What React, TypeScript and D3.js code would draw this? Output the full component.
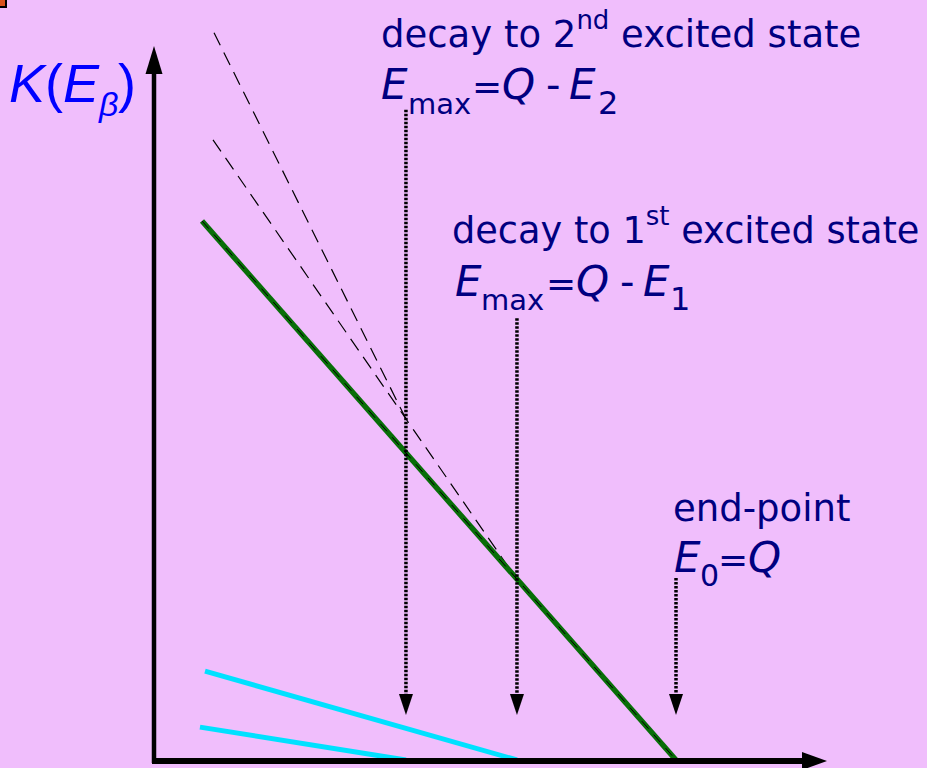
import React, { useEffect } from "react";
import * as d3 from "d3";

// ---- data (energy in arbitrary units, Kurie value K in arbitrary units) ----
const energyDomain = [0, 3];
const kurieDomain = [0, 10];
// end-points of the three branches: E_max2 = Q - E2, E_max1 = Q - E1, E0 = Q
const branchEndpoints = [1.448, 2.086, 3.0];
const markerTopK = [9.29, 6.31, 2.6];
const markerTipK = 0.643;
const groundState: [number, number][] = [[0.276, 7.7], [3.0, 0]];
const firstExcited: [number, number][] = [[0.293, 1.27], [2.086, 0]];
const secondExcited: [number, number][] = [[0.264, 0.47], [1.448, 0]];
const sumTwoBranches: [number, number][] = [[0.339, 8.86], [2.086, 2.58]];
const sumThreeBranches: [number, number][] = [[0.345, 10.39], [1.448, 4.87]];

const BG = "#F0BEFC";
const NAVY = "#000080";
const BLUE = "#0000FF";
const SANS = "'DejaVu Sans', Verdana, sans-serif";

export default function App() {
  useEffect(() => {
    document.body.style.margin = "0";
  }, []);

  const W = 927;
  const H = 768;
  const x = d3.scaleLinear().domain(energyDomain).range([154, 676]);
  const y = d3.scaleLinear().domain(kurieDomain).range([760, 60]);
  const line = d3
    .line<[number, number]>()
    .x((d) => x(d[0]))
    .y((d) => y(d[1]));

  const x0 = x(0);
  const y0 = y(0);

  return (
    <svg
      width={W}
      height={H}
      style={{ position: "absolute", left: 0, top: 0, display: "block" }}
    >
      <rect x={0} y={0} width={W} height={H} fill={BG} />
      <rect x={-3} y={-3} width={9} height={10} fill="#D9531E" stroke="#000" strokeWidth={2} />

      {/* extrapolated dashed sums */}
      <path d={line(sumThreeBranches) || ""} fill="none" stroke="#000" strokeWidth={1.2} strokeDasharray="14 8" />
      <path d={line(sumTwoBranches) || ""} fill="none" stroke="#000" strokeWidth={1.2} strokeDasharray="14 8" />

      {/* excited-state branches */}
      <path d={line(firstExcited) || ""} fill="none" stroke="#00E1FF" strokeWidth={5} />
      <path d={line(secondExcited) || ""} fill="none" stroke="#00E1FF" strokeWidth={5} />

      {/* ground state */}
      <path d={line(groundState) || ""} fill="none" stroke="#086E08" strokeWidth={5.5} />
      <path d={line(groundState) || ""} fill="none" stroke="#000" strokeWidth={1} strokeDasharray="10 8" />

      {/* dotted markers */}
      {branchEndpoints.map((e, i) => {
        const xp = x(e);
        const tip = y(markerTipK);
        return (
          <g key={i}>
            <line x1={xp} x2={xp} y1={y(markerTopK[i])} y2={tip - 19} stroke="#000" strokeWidth={3.5} strokeDasharray="2.5 1.5" />
            <path d={`M${xp - 7},${tip - 21} L${xp + 7},${tip - 21} L${xp},${tip} Z`} fill="#000" />
          </g>
        );
      })}

      {/* axes */}
      <line x1={x0} x2={x0} y1={72} y2={y0 + 3} stroke="#000" strokeWidth={4.5} />
      <path d={`M${x0},46 L${x0 - 8.5},74 L${x0 + 8.5},74 Z`} fill="#000" />
      <line x1={x0 - 2} x2={803} y1={y0 + 1} y2={y0 + 1} stroke="#000" strokeWidth={6} />
      <path d={`M827,${y0 + 1} L802,${y0 - 8} L802,${y0 + 10} Z`} fill="#000" />

      {/* K(E_beta) */}
      <text fontFamily="'Liberation Sans', Arial, sans-serif" fontSize={54} fill={BLUE}>
        <tspan x={9} y={102} fontStyle="italic">K</tspan>
        <tspan x={45} y={102}>(</tspan>
        <tspan x={63} y={102} fontStyle="italic">E</tspan>
        <tspan x={99} y={116} fontSize={34} fontStyle="italic">β</tspan>
        <tspan x={118} y={102}>)</tspan>
      </text>

      {/* 2nd excited state label */}
      <g>
        <text x={381} y={47} fontFamily={SANS} fontSize={37} fill={NAVY}>
          decay to 2<tspan fontSize={26} dy={-18}>nd</tspan>
          <tspan dy={18}> excited state</tspan>
        </text>
        <text fontFamily={SANS} fill={NAVY}>
          <tspan x={381} y={99} fontSize={42} fontStyle="italic">E</tspan>
          <tspan x={408} y={114} fontSize={29}>max</tspan>
          <tspan x={472} y={99} fontSize={36}>=</tspan>
          <tspan x={502} y={99} fontSize={42} fontStyle="italic">Q</tspan>
          <tspan x={546} y={99} fontSize={40}>-</tspan>
          <tspan x={569} y={99} fontSize={42} fontStyle="italic">E</tspan>
          <tspan x={598} y={114} fontSize={32}>2</tspan>
        </text>
      </g>

      {/* 1st excited state label */}
      <g>
        <text x={452} y={243} fontFamily={SANS} fontSize={36.7} fill={NAVY}>
          decay to 1<tspan fontSize={26} dy={-18}>st</tspan>
          <tspan dy={18}> excited state</tspan>
        </text>
        <text fontFamily={SANS} fill={NAVY}>
          <tspan x={455} y={296} fontSize={42} fontStyle="italic">E</tspan>
          <tspan x={481} y={310} fontSize={29}>max</tspan>
          <tspan x={546} y={296} fontSize={36}>=</tspan>
          <tspan x={576} y={296} fontSize={42} fontStyle="italic">Q</tspan>
          <tspan x={620} y={296} fontSize={40}>-</tspan>
          <tspan x={643} y={296} fontSize={42} fontStyle="italic">E</tspan>
          <tspan x={670} y={310} fontSize={32}>1</tspan>
        </text>
      </g>

      {/* end-point label */}
      <text x={673} y={521} fontFamily={SANS} fontSize={37} fill={NAVY}>end-point</text>
      <text fontFamily={SANS} fill={NAVY}>
        <tspan x={674} y={572} fontSize={42} fontStyle="italic">E</tspan>
        <tspan x={700} y={586} fontSize={30}>0</tspan>
        <tspan x={718} y={572} fontSize={36}>=</tspan>
        <tspan x={748} y={572} fontSize={42} fontStyle="italic">Q</tspan>
      </text>
    </svg>
  );
}
